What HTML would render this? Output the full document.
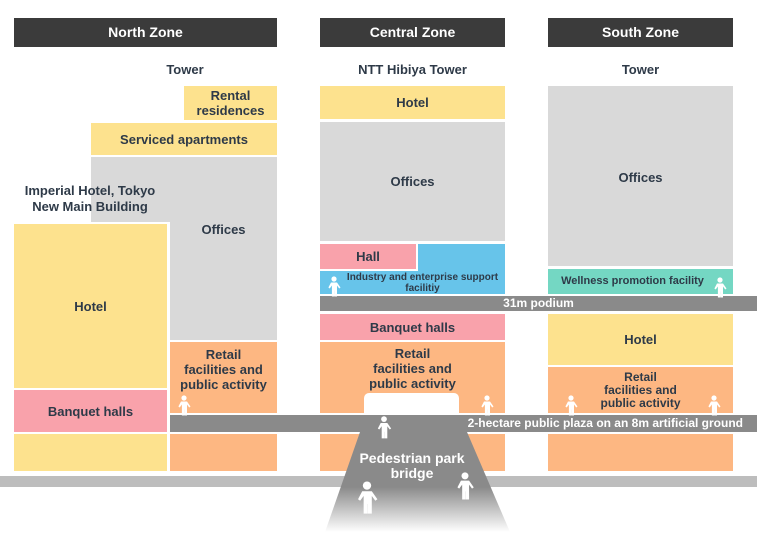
<!DOCTYPE html>
<html><head><meta charset="utf-8"><style>
*{margin:0;padding:0;box-sizing:border-box}
body{width:760px;height:544px;background:#fff;position:relative;overflow:hidden;font-family:"Liberation Sans","DejaVu Sans",sans-serif;font-weight:bold;color:#2e3a48}
.b{position:absolute;display:flex;align-items:center;justify-content:center;text-align:center;font-size:13px;line-height:15px}
.h{background:#3b3b3b;color:#fff;font-size:14px}
.y{background:#fde28e}.g{background:#d9d9d9}.p{background:#f9a2ab}.o{background:#fdb782}.bl{background:#67c4ea}.t{background:#74d7c3}
.d{background:#8a8a8a;color:#fff;font-size:12px}
.l{position:absolute;font-size:13px;text-align:center}
</style></head><body>
<div class="b h" style="left:14px;top:18px;width:263px;height:29px">North Zone</div>
<div class="b h" style="left:320px;top:18px;width:185px;height:29px">Central Zone</div>
<div class="b h" style="left:548px;top:18px;width:185px;height:29px">South Zone</div>
<div class="l" style="left:140px;top:62px;width:90px">Tower</div>
<div class="l" style="left:320px;top:62px;width:185px">NTT Hibiya Tower</div>
<div class="l" style="left:548px;top:62px;width:185px">Tower</div>

<!-- North -->
<div class="b y" style="left:184px;top:86px;width:93px;height:34px">Rental<br>residences</div>
<div class="b y" style="left:91px;top:123px;width:186px;height:32px">Serviced apartments</div>
<div class="b g" style="left:91px;top:157px;width:186px;height:183px"></div>
<div class="b g" style="left:170px;top:157px;width:107px;height:145px;background:transparent">Offices</div>
<div class="l" style="left:10px;top:183px;width:160px;line-height:16px">Imperial Hotel, Tokyo<br>New Main Building</div>
<div class="b" style="left:12px;top:222px;width:158px;height:252px;background:#fff"></div>
<div class="b y" style="left:14px;top:224px;width:153px;height:164px">Hotel</div>
<div class="b p" style="left:14px;top:390px;width:153px;height:42px">Banquet halls</div>
<div class="b y" style="left:14px;top:434px;width:153px;height:37px"></div>
<div class="b o" style="left:170px;top:342px;width:107px;height:71px;align-items:flex-start;padding-top:5px">Retail<br>facilities and<br>public activity</div>
<div class="b o" style="left:170px;top:434px;width:107px;height:37px"></div>

<!-- Central -->
<div class="b y" style="left:320px;top:86px;width:185px;height:33px">Hotel</div>
<div class="b g" style="left:320px;top:122px;width:185px;height:119px">Offices</div>
<div class="b p" style="left:320px;top:244px;width:96px;height:25px">Hall</div>
<div class="b bl" style="left:418px;top:244px;width:87px;height:27px"></div>
<div class="b bl" style="left:320px;top:271px;width:185px;height:23px;font-size:10px;line-height:11px;padding-left:20px">Industry and enterprise support<br>facilitiy</div>
<div class="b d" style="left:320px;top:296px;width:437px;height:15px">31m podium</div>
<div class="b p" style="left:320px;top:314px;width:185px;height:26px">Banquet halls</div>
<div class="b o" style="left:320px;top:342px;width:185px;height:71px;align-items:flex-start;padding-top:4px">Retail<br>facilities and<br>public activity</div>
<div class="b" style="left:364px;top:393px;width:95px;height:22px;background:#fff;border-radius:5px 5px 0 0"></div>
<div class="b o" style="left:320px;top:434px;width:185px;height:37px"></div>

<!-- South -->
<div class="b g" style="left:548px;top:86px;width:185px;height:180px;align-items:flex-start;padding-top:84px">Offices</div>
<div class="b t" style="left:548px;top:269px;width:185px;height:25px;font-size:11px;padding-right:16px">Wellness promotion facility</div>
<div class="b y" style="left:548px;top:314px;width:185px;height:51px">Hotel</div>
<div class="b o" style="left:548px;top:367px;width:185px;height:46px;font-size:12px;line-height:13px">Retail<br>facilities and<br>public activity</div>
<div class="b o" style="left:548px;top:434px;width:185px;height:37px"></div>

<div class="b d" style="left:170px;top:415px;width:587px;height:17px;justify-content:flex-end;padding-right:14px">2-hectare public plaza on an 8m artificial ground</div>
<div class="b" style="left:0;top:476px;width:757px;height:11px;background:#bdbdbd"></div>

<svg style="position:absolute;left:0;top:0" width="760" height="544">
<defs>
<linearGradient id="gr" x1="0" y1="0" x2="0" y2="1"><stop offset="0.55" stop-color="#8a8a8a"/><stop offset="1" stop-color="#fff"/></linearGradient>
<g id="man" fill="#fff"><circle cx="0" cy="-9" r="2.6"/><path d="M-3,-5.5h6l3.5,5l-1.3,1l-2.2,-3v11h-2.5v-6h-0.1v6h-2.5v-11l-2.2,3l-1.3,-1z"/></g>
</defs>
<path d="M360,432 L467,432 L510,532 L325,532 Z" fill="url(#gr)"/>
<text x="412" y="463" fill="#fff" font-size="14" font-weight="bold" text-anchor="middle" font-family="Liberation Sans,sans-serif">Pedestrian park</text>
<text x="412" y="478" fill="#fff" font-size="14" font-weight="bold" text-anchor="middle" font-family="Liberation Sans,sans-serif">bridge</text>
<use href="#man" transform="translate(367,500) scale(1.6)"/>
<use href="#man" transform="translate(465,488) scale(1.35)"/>
<use href="#man" transform="translate(384,429) scale(1.1)"/>
<use href="#man" transform="translate(184,407)"/>
<use href="#man" transform="translate(334,288)"/>
<use href="#man" transform="translate(487,407)"/>
<use href="#man" transform="translate(720,289)"/>
<use href="#man" transform="translate(571,407)"/>
<use href="#man" transform="translate(714,407)"/>
</svg>
</body></html>
